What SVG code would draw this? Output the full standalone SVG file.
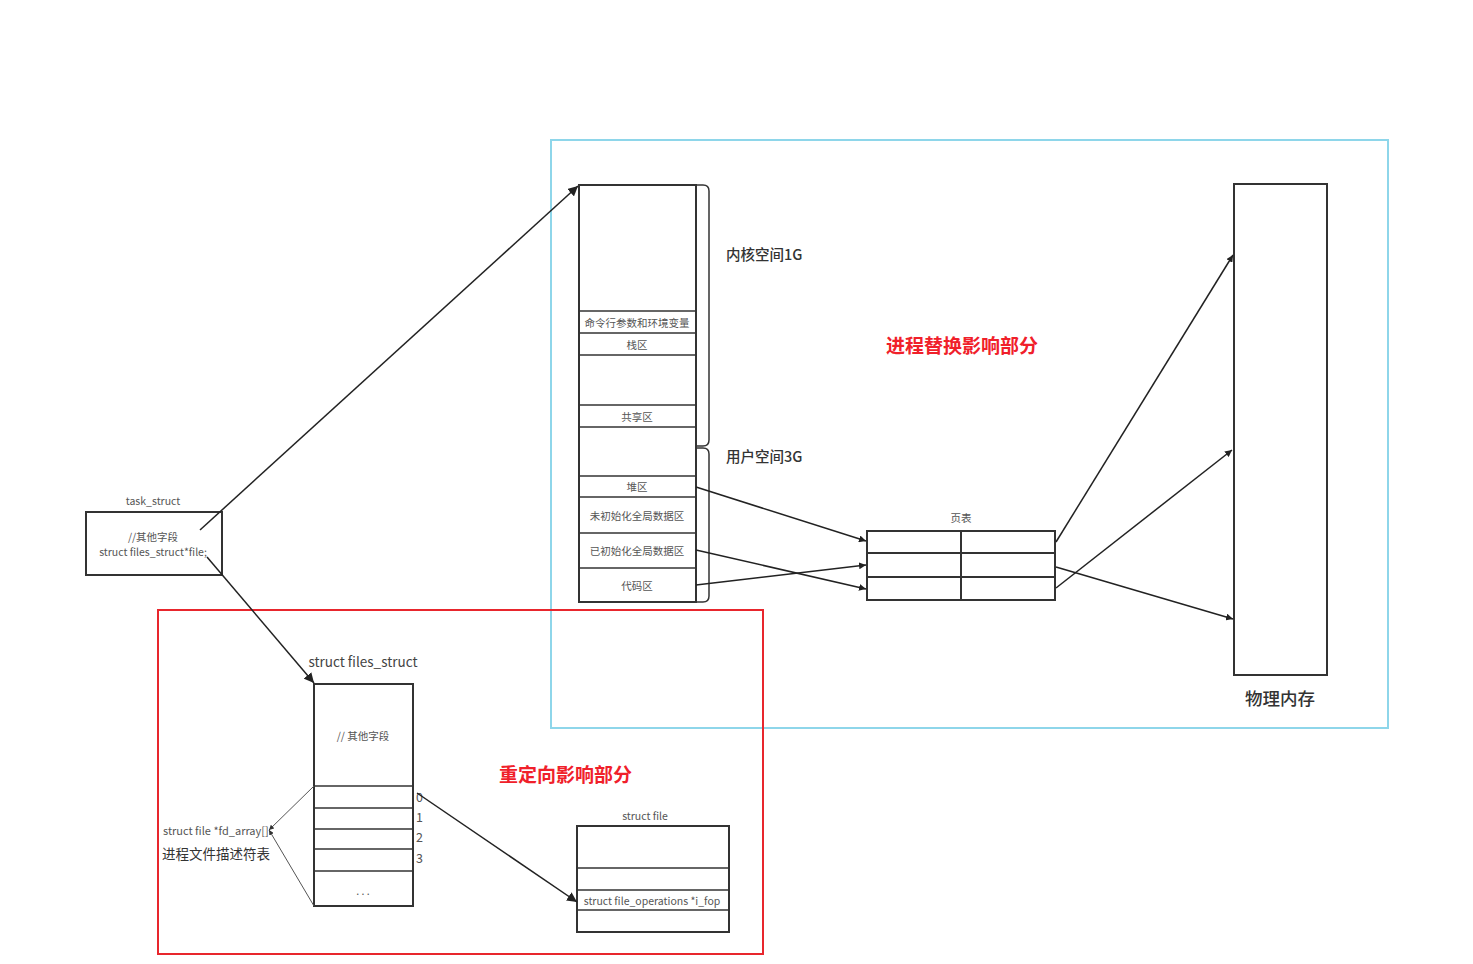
<svg xmlns="http://www.w3.org/2000/svg" width="1473" height="964" viewBox="0 0 1473 964">
<style>
.box{fill:#fff;stroke:#333;stroke-width:2}
.thin{fill:none;stroke:#333;stroke-width:1.5}
.con{fill:none;stroke:#222;stroke-width:1.5}
.t{font-family:"Noto Sans CJK SC","Liberation Sans",sans-serif;fill:#555;font-size:10.5px;text-anchor:middle;dominant-baseline:central}
.tl{font-family:"Noto Sans CJK SC","Liberation Sans",sans-serif;fill:#333;font-size:14.5px;font-weight:500;dominant-baseline:central}
.red{font-family:"Noto Sans CJK SC",sans-serif;fill:#f0202a;font-size:19px;font-weight:bold;dominant-baseline:central}
</style>
<defs>
<marker id="ar" viewBox="0 0 10 10" refX="10" refY="5" markerWidth="7" markerHeight="7" orient="auto" markerUnits="userSpaceOnUse"><path d="M0,0 L10,5 L0,10 z" fill="#222"/></marker>
<marker id="ar2" viewBox="0 0 10 10" refX="10" refY="5" markerWidth="10" markerHeight="10" orient="auto" markerUnits="userSpaceOnUse"><path d="M0,0 L10,5 L0,10 z" fill="#222"/></marker>
<marker id="ar3" viewBox="0 0 10 10" refX="10" refY="5" markerWidth="5" markerHeight="5" orient="auto" markerUnits="userSpaceOnUse"><path d="M0,0 L10,5 L0,10 z" fill="#333"/></marker>
</defs>
<rect width="1473" height="964" fill="#fff"/>

<g id="region-exec">
<rect x="551" y="140" width="837" height="588" fill="none" stroke="#8ed6ea" stroke-width="2"/>
<text class="red" x="886" y="344">进程替换影响部分</text>
</g>
<g id="region-redirect">
<rect x="158" y="610" width="605" height="344" fill="none" stroke="#e8262d" stroke-width="2"/>
<text class="red" x="499" y="773">重定向影响部分</text>
</g>

<g id="task_struct">
<text class="t" x="153" y="500">task_struct</text>
<rect class="box" x="86" y="512" width="136" height="63"/>
<text class="t" x="153" y="536">//其他字段</text>
<text class="t" x="153" y="551">struct files_struct*file;</text>
</g>

<g id="address-space">
<rect class="box" x="579" y="185" width="117" height="417"/>
<line class="thin" x1="579" y1="311" x2="696" y2="311"/>
<line class="thin" x1="579" y1="333" x2="696" y2="333"/>
<line class="thin" x1="579" y1="355" x2="696" y2="355"/>
<line class="thin" x1="579" y1="405" x2="696" y2="405"/>
<line class="thin" x1="579" y1="427" x2="696" y2="427"/>
<line class="thin" x1="579" y1="476" x2="696" y2="476"/>
<line class="thin" x1="579" y1="497" x2="696" y2="497"/>
<line class="thin" x1="579" y1="533" x2="696" y2="533"/>
<line class="thin" x1="579" y1="568" x2="696" y2="568"/>
<text class="t" x="637" y="322">命令行参数和环境变量</text>
<text class="t" x="637" y="344">栈区</text>
<text class="t" x="637" y="416">共享区</text>
<text class="t" x="637" y="486">堆区</text>
<text class="t" x="637" y="515">未初始化全局数据区</text>
<text class="t" x="637" y="550">已初始化全局数据区</text>
<text class="t" x="637" y="585">代码区</text>
<path class="thin" d="M696,185 H703 Q709,185 709,191 V440 Q709,446 703,446 H696"/>
<path class="thin" d="M696,448 H703 Q709,448 709,454 V596 Q709,602 703,602 H696"/>
<text class="tl" x="726" y="253">内核空间1G</text>
<text class="tl" x="726" y="455">用户空间3G</text>
</g>

<g id="page-table">
<text class="t" x="961" y="517">页表</text>
<rect class="box" x="867" y="531" width="188" height="69"/>
<line class="box" x1="867" y1="553" x2="1055" y2="553"/>
<line class="box" x1="867" y1="577" x2="1055" y2="577"/>
<line class="box" x1="961" y1="531" x2="961" y2="600"/>
</g>

<g id="physical-memory">
<rect class="box" x="1234" y="184" width="93" height="491"/>
<text class="tl" x="1280" y="697" text-anchor="middle" style="font-size:17.5px">物理内存</text>
</g>

<g id="files_struct">
<text class="t" x="363" y="661" style="font-size:13.5px;fill:#444">struct files_struct</text>
<rect class="box" x="314" y="684" width="99" height="222"/>
<line class="thin" x1="314" y1="786" x2="413" y2="786"/>
<line class="thin" x1="314" y1="808" x2="413" y2="808"/>
<line class="thin" x1="314" y1="829" x2="413" y2="829"/>
<line class="thin" x1="314" y1="849" x2="413" y2="849"/>
<line class="thin" x1="314" y1="871" x2="413" y2="871"/>
<text class="t" x="363" y="735">// 其他字段</text>
<text class="t" x="363" y="890">. . .</text>
<text class="tl" x="416" y="796" style="font-size:12.5px;fill:#555;font-weight:normal">0</text>
<text class="tl" x="416" y="816" style="font-size:12.5px;fill:#555;font-weight:normal">1</text>
<text class="tl" x="416" y="836" style="font-size:12.5px;fill:#555;font-weight:normal">2</text>
<text class="tl" x="416" y="857" style="font-size:12.5px;fill:#555;font-weight:normal">3</text>
<path d="M314,786 L269,830" fill="none" stroke="#555" stroke-width="1" marker-end="url(#ar3)"/>
<path d="M314,906 L269,830" fill="none" stroke="#555" stroke-width="1" marker-end="url(#ar3)"/>
<text class="t" x="163" y="830" style="text-anchor:start;font-size:11px">struct file *fd_array[]</text>
<text class="tl" x="162" y="853" style="font-size:13.5px;font-weight:normal">进程文件描述符表</text>
</g>

<g id="struct-file">
<text class="t" x="645" y="815">struct file</text>
<rect class="box" x="577" y="826" width="152" height="106"/>
<line class="thin" x1="577" y1="868" x2="729" y2="868"/>
<line class="thin" x1="577" y1="890" x2="729" y2="890"/>
<line class="thin" x1="577" y1="910" x2="729" y2="910"/>
<text class="t" x="652" y="900">struct file_operations *i_fop</text>
</g>

<g id="connectors">
<line class="con" x1="200" y1="530" x2="578" y2="186" marker-end="url(#ar2)"/>
<line class="con" x1="207" y1="557" x2="314" y2="683" marker-end="url(#ar2)"/>
<line class="con" x1="417" y1="793" x2="577" y2="902" marker-end="url(#ar2)"/>
<line class="con" x1="696" y1="487" x2="866" y2="541" marker-end="url(#ar)"/>
<line class="con" x1="696" y1="550" x2="866" y2="589" marker-end="url(#ar)"/>
<line class="con" x1="696" y1="585" x2="866" y2="565" marker-end="url(#ar)"/>
<line class="con" x1="1056" y1="542" x2="1233" y2="255" marker-end="url(#ar)"/>
<line class="con" x1="1056" y1="588" x2="1232" y2="450" marker-end="url(#ar)"/>
<line class="con" x1="1056" y1="567" x2="1233" y2="619" marker-end="url(#ar)"/>
</g>
</svg>
